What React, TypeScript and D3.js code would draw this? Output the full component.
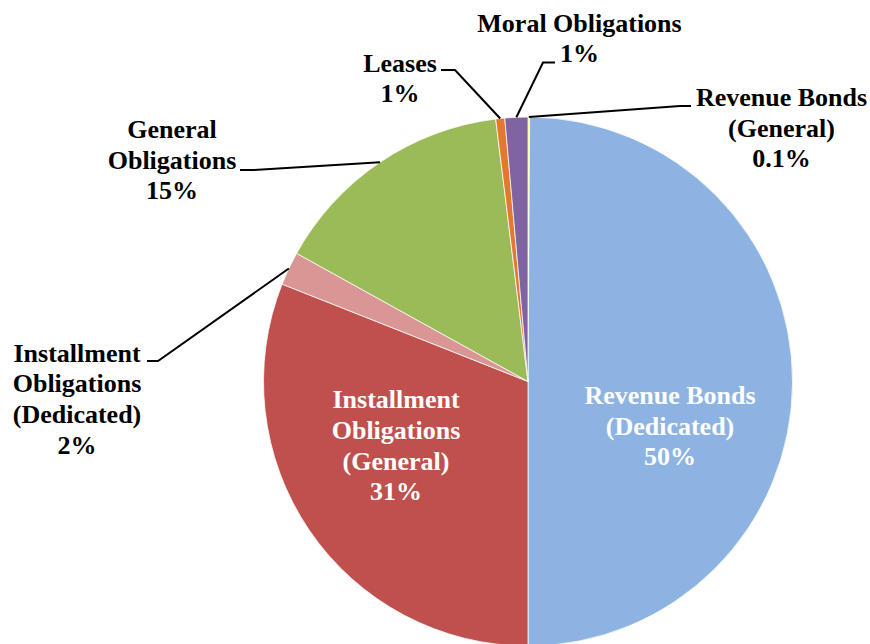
import React from "react";
import * as d3 from "d3";

// Data (clockwise from 12 o'clock)
const categories = [
  "Revenue Bonds (General)",
  "Revenue Bonds (Dedicated)",
  "Installment Obligations (General)",
  "Installment Obligations (Dedicated)",
  "General Obligations",
  "Leases",
  "Moral Obligations",
];
const values = [0.1, 49.9, 31.0, 2.05, 15.0, 0.55, 1.4];
const pctLabels = ["0.1%", "50%", "31%", "2%", "15%", "1%", "1%"];
const labelLines = [
  ["Revenue Bonds", "(General)"],
  ["Revenue Bonds", "(Dedicated)"],
  ["Installment", "Obligations", "(General)"],
  ["Installment", "Obligations", "(Dedicated)"],
  ["General", "Obligations"],
  ["Leases"],
  ["Moral Obligations"],
];
const colors = ["#FFFF00", "#8DB3E2", "#C0504D", "#D99694", "#9BBB59", "#E5782F", "#8064A2"];

// Layout (label positions / leader elbows)
const labelLayout = [
  { x: 781.5, y: 106, inside: false, elbow: [[691, 106], [680, 106]] },
  { x: 670, y: 404, inside: true, elbow: [] },
  { x: 396, y: 408.3, inside: true, elbow: [] },
  { x: 77, y: 361.5, inside: false, elbow: [[147, 361], [158, 361]] },
  { x: 172, y: 138, inside: false, elbow: [[240, 170], [253, 170]] },
  { x: 400, y: 71.7, inside: false, elbow: [[441, 70], [455, 70]] },
  { x: 579.5, y: 31.7, inside: false, elbow: [[555, 62.5], [543, 62.5]] },
];

const W = 870;
const H = 644;
const cx = 528;
const cy = 381.5;
const R = 264.5;
const lineH = 30.7;
const FONT = '"Liberation Serif", "Times New Roman", Times, serif';

export default function App() {
  const pie = d3
    .pie<number>()
    .sort(null)
    .value((d) => d)
    .startAngle(0)
    .endAngle(2 * Math.PI);
  const arcs = pie(values);
  const arc = d3.arc<d3.PieArcDatum<number>>().innerRadius(0).outerRadius(R);
  const edgeArc = d3.arc<d3.PieArcDatum<number>>().innerRadius(R).outerRadius(R);
  const line = d3.line();

  return (
    <svg width={W} height={H} style={{ position: "absolute", left: 0, top: 0 }}>
      <rect width={W} height={H} fill="#fff" />
      <g transform={`translate(${cx},${cy})`}>
        {arcs.map((a, i) => (
          <path key={categories[i]} d={arc(a) || ""} fill={colors[i]} stroke="#fff" strokeWidth={0.75} />
        ))}
      </g>
      {arcs.map((a, i) => {
        const L = labelLayout[i];
        if (L.inside || L.elbow.length === 0) return null;
        const c = edgeArc.centroid(a);
        const pts: [number, number][] = [
          [L.elbow[0][0], L.elbow[0][1]],
          [L.elbow[1][0], L.elbow[1][1]],
          [cx + c[0], cy + c[1]],
        ];
        return <path key={"l" + i} d={line(pts) || ""} fill="none" stroke="#000" strokeWidth={2} />;
      })}
      {arcs.map((a, i) => {
        const L = labelLayout[i];
        const lines = [...labelLines[i], pctLabels[i]];
        return (
          <text
            key={"t" + i}
            textAnchor="middle"
            fill={L.inside ? "#fff" : "#000"}
            style={{ fontFamily: FONT, fontWeight: 700, fontSize: "26px" }}
          >
            {lines.map((s, j) => (
              <tspan key={j} x={L.x} y={L.y + j * lineH}>
                {s}
              </tspan>
            ))}
          </text>
        );
      })}
    </svg>
  );
}
